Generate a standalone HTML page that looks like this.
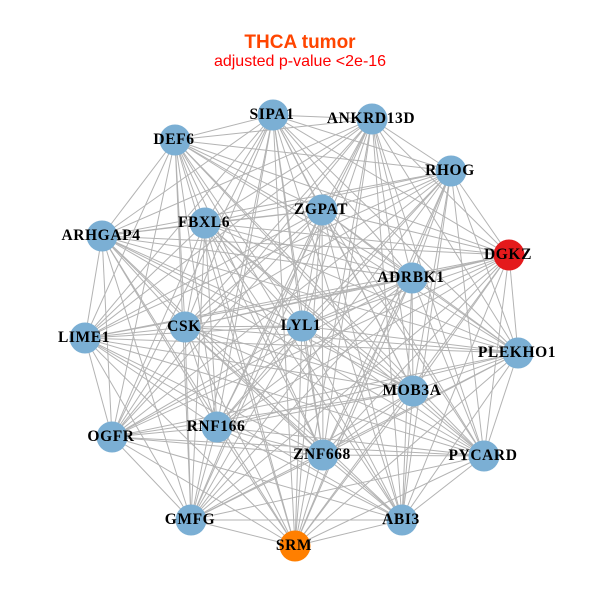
<!DOCTYPE html>
<html><head><meta charset="utf-8"><style>
html,body{margin:0;padding:0;background:#fff;width:600px;height:600px;overflow:hidden}
</style></head><body>
<svg id="s" width="600" height="600" xmlns="http://www.w3.org/2000/svg">
<text x="300" y="48" text-anchor="middle" font-family="Liberation Sans, sans-serif" font-weight="bold" font-size="19" fill="#FF4500">THCA tumor</text>
<text x="300" y="66" text-anchor="middle" font-family="Liberation Sans, sans-serif" font-size="16" fill="#FF0000">adjusted p-value &lt;2e-16</text>
<g id="e" stroke="#b3b3b3" stroke-width="1"></g>
<g id="n"></g>
<g id="l" font-family="Liberation Serif, serif" font-weight="bold" font-size="15.5" letter-spacing="0.6" fill="#000" text-anchor="middle"></g>
</svg>
<script>
var N=[["SIPA1",273,115],["ANKRD13D",372,119],["DEF6",175,140],["RHOG",451,171],["ZGPAT",322,210],["FBXL6",205,223],["ARHGAP4",102,236],["DGKZ",509,255,"#E41A1C"],["ADRBK1",412,278],["LIME1",85,338],["CSK",185,327],["LYL1",302,326],["PLEKHO1",518,353],["MOB3A",413,391],["OGFR",112,437],["RNF166",217,427],["ZNF668",323,455],["PYCARD",484,456],["GMFG",191,520],["SRM",295,546,"#FF7F00"],["ABI3",402,520]];
var ns="http://www.w3.org/2000/svg",e=document.getElementById("e"),n=document.getElementById("n"),l=document.getElementById("l");
for(var i=0;i<N.length;i++)for(var j=i+1;j<N.length;j++){var a=document.createElementNS(ns,"line");a.setAttribute("x1",N[i][1]);a.setAttribute("y1",N[i][2]);a.setAttribute("x2",N[j][1]);a.setAttribute("y2",N[j][2]);e.appendChild(a);}
N.forEach(function(d){var c=document.createElementNS(ns,"circle");c.setAttribute("cx",d[1]);c.setAttribute("cy",d[2]);c.setAttribute("r",15.5);c.setAttribute("fill",d[3]||"#7BAFD4");n.appendChild(c);
var t=document.createElementNS(ns,"text");t.setAttribute("x",d[1]-1);t.setAttribute("y",d[2]+4);t.textContent=d[0];l.appendChild(t);});
</script>
</body></html>
